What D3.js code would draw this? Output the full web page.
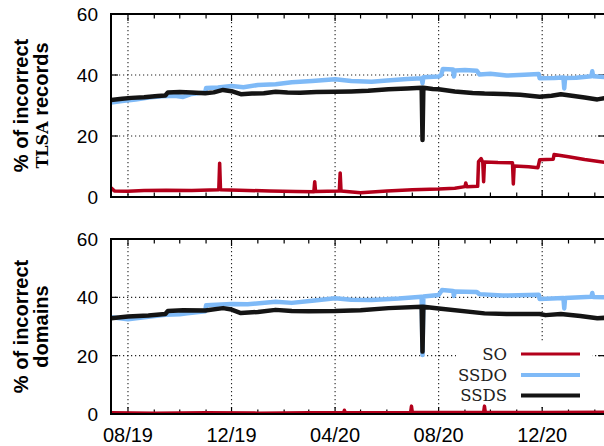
<!DOCTYPE html>
<html>
<head>
<meta charset="utf-8">
<script src="https://cdn.jsdelivr.net/npm/d3@7"></script>
<style>
  body { margin: 0; background: #fff; }
  svg { display: block; }
</style>
</head>
<body>
<div class="chart"></div>
<script>
'use strict';

// x axis: major tick months and labels
var majorTicks  = ['2019-08-01', '2019-12-01', '2020-04-01', '2020-08-01', '2020-12-01'];
var majorLabels = ['08/19', '12/19', '04/20', '08/20', '12/20'];
var yTicks      = [0, 20, 40, 60];

var seriesNames = ['SO', 'SSDO', 'SSDS'];

// top panel: % of incorrect TLSA records
var tlsaSO = [
  ['2019-07-12', 3.0], ['2019-07-16', 2.0], ['2019-08-01', 1.9], ['2019-08-20', 2.1],
  ['2019-09-15', 2.2], ['2019-10-15', 2.1], ['2019-11-16', 2.4], ['2019-11-17', 11.1],
  ['2019-11-18', 2.4], ['2019-12-10', 2.2], ['2020-01-15', 2.0], ['2020-02-15', 1.8],
  ['2020-03-07', 1.7], ['2020-03-08', 5.0], ['2020-03-09', 1.8], ['2020-04-06', 2.0],
  ['2020-04-07', 7.9], ['2020-04-08', 2.0], ['2020-05-01', 1.4], ['2020-06-01', 2.0],
  ['2020-07-01', 2.4], ['2020-08-01', 2.6], ['2020-08-20', 2.9], ['2020-09-01', 3.4],
  ['2020-09-02', 4.6], ['2020-09-03', 3.4], ['2020-09-16', 3.5], ['2020-09-17', 11.6],
  ['2020-09-20', 12.6], ['2020-09-22', 11.4], ['2020-09-23', 5.0], ['2020-09-24', 11.5],
  ['2020-10-10', 11.3], ['2020-10-27', 11.2], ['2020-10-28', 4.3], ['2020-10-29', 10.2],
  ['2020-11-15', 9.9], ['2020-11-26', 9.6], ['2020-11-28', 12.2], ['2020-12-14', 12.4],
  ['2020-12-15', 13.9], ['2021-01-01', 13.2], ['2021-01-20', 12.3], ['2021-02-14', 11.3]
];
var tlsaSSDO = [
  ['2019-07-12', 31.0], ['2019-07-25', 31.5], ['2019-08-10', 32.0], ['2019-08-25', 32.6],
  ['2019-09-10', 33.0], ['2019-09-25', 33.2], ['2019-10-05', 32.8], ['2019-10-15', 33.8],
  ['2019-10-31', 34.3], ['2019-11-01', 35.7], ['2019-11-15', 35.9], ['2019-12-01', 36.4],
  ['2019-12-15', 36.0], ['2020-01-01', 36.7], ['2020-01-22', 37.0], ['2020-02-10', 37.6],
  ['2020-03-05', 38.0], ['2020-04-01', 38.6], ['2020-04-20', 38.0], ['2020-05-14', 37.8],
  ['2020-06-05', 38.3], ['2020-06-25', 38.7], ['2020-07-12', 38.9], ['2020-07-13', 37.3],
  ['2020-07-14', 39.3], ['2020-08-01', 39.5], ['2020-08-04', 40.0], ['2020-08-06', 42.0],
  ['2020-08-18', 41.8], ['2020-08-19', 39.5], ['2020-08-20', 41.5], ['2020-09-01', 41.6],
  ['2020-09-15', 41.4], ['2020-09-18', 40.2], ['2020-10-01', 40.4], ['2020-10-20', 39.8],
  ['2020-11-10', 40.1], ['2020-11-27', 40.3], ['2020-11-28', 38.9], ['2020-12-15', 39.0],
  ['2020-12-26', 39.2], ['2020-12-27', 35.6], ['2020-12-28', 39.0], ['2021-01-10', 39.1],
  ['2021-01-28', 39.6], ['2021-01-29', 41.2], ['2021-01-30', 39.6], ['2021-02-14', 39.3]
];
var tlsaSSDS = [
  ['2019-07-12', 31.8], ['2019-07-25', 32.2], ['2019-08-05', 32.5], ['2019-08-20', 32.7],
  ['2019-09-05', 33.1], ['2019-09-14', 33.3], ['2019-09-17', 34.3], ['2019-10-01', 34.4],
  ['2019-10-15', 34.3], ['2019-10-31', 34.0], ['2019-11-10', 34.3], ['2019-11-21', 35.1],
  ['2019-12-01', 34.7], ['2019-12-12', 33.7], ['2019-12-25', 33.9], ['2020-01-08', 34.0],
  ['2020-01-22', 34.5], ['2020-02-05', 34.3], ['2020-02-20', 34.2], ['2020-03-10', 34.4],
  ['2020-04-01', 34.5], ['2020-04-20', 34.6], ['2020-05-10', 34.8], ['2020-06-03', 35.3],
  ['2020-06-25', 35.6], ['2020-07-12', 35.8], ['2020-07-13', 18.7], ['2020-07-14', 35.8],
  ['2020-07-25', 35.4], ['2020-08-01', 35.3], ['2020-08-20', 34.6], ['2020-09-10', 34.1],
  ['2020-09-24', 33.9], ['2020-10-15', 33.8], ['2020-11-05', 33.5], ['2020-11-28', 32.9],
  ['2020-12-12', 33.2], ['2020-12-23', 33.7], ['2021-01-05', 33.2], ['2021-01-20', 32.6],
  ['2021-02-04', 32.0], ['2021-02-14', 32.5]
];

// bottom panel: % of incorrect domains
var domSO = [
  ['2019-07-12', 0.4], ['2019-09-01', 0.3], ['2019-11-01', 0.4], ['2020-01-01', 0.3],
  ['2020-03-01', 0.4], ['2020-04-11', 0.4], ['2020-04-12', 1.3], ['2020-04-13', 0.4],
  ['2020-06-29', 0.5], ['2020-06-30', 2.7], ['2020-07-01', 0.5], ['2020-08-25', 0.5],
  ['2020-09-23', 0.5], ['2020-09-24', 2.7], ['2020-09-25', 0.5], ['2020-12-01', 0.5],
  ['2021-02-14', 0.6]
];
var domSSDO = [
  ['2019-07-12', 33.2], ['2019-08-01', 32.5], ['2019-08-25', 33.3], ['2019-09-14', 34.0],
  ['2019-10-01', 34.2], ['2019-10-10', 34.5], ['2019-10-31', 35.2], ['2019-11-01', 37.3],
  ['2019-12-01', 37.7], ['2019-12-20', 37.6], ['2020-01-22', 38.5], ['2020-02-10', 38.1],
  ['2020-03-05', 38.8], ['2020-04-01', 39.7], ['2020-04-20', 39.2], ['2020-05-14', 39.1],
  ['2020-06-15', 39.6], ['2020-07-12', 40.2], ['2020-07-13', 20.2], ['2020-07-14', 40.3],
  ['2020-08-01', 40.8], ['2020-08-05', 42.5], ['2020-08-18', 42.2], ['2020-08-19', 40.5],
  ['2020-08-20', 42.0], ['2020-09-15', 41.8], ['2020-09-18', 41.1], ['2020-10-15', 40.6],
  ['2020-11-27', 40.9], ['2020-11-28', 39.4], ['2020-12-26', 39.8], ['2020-12-27', 36.2],
  ['2020-12-28', 39.8], ['2021-01-28', 40.2], ['2021-01-29', 41.5], ['2021-01-30', 40.1],
  ['2021-02-14', 40.0]
];
var domSSDS = [
  ['2019-07-12', 32.8], ['2019-08-01', 33.4], ['2019-08-25', 33.8], ['2019-09-14', 34.3],
  ['2019-09-17', 35.3], ['2019-10-05', 35.6], ['2019-10-31', 35.5], ['2019-11-21', 36.3],
  ['2019-12-01', 35.8], ['2019-12-12', 34.6], ['2020-01-01', 35.0], ['2020-01-22', 35.7],
  ['2020-02-10', 35.3], ['2020-03-01', 35.2], ['2020-04-01', 35.3], ['2020-05-01', 35.6],
  ['2020-06-03', 36.3], ['2020-07-12', 36.8], ['2020-07-13', 21.4], ['2020-07-14', 36.8],
  ['2020-08-01', 36.2], ['2020-09-24', 34.5], ['2020-10-20', 34.3], ['2020-11-28', 34.3],
  ['2020-12-05', 33.9], ['2020-12-23', 34.3], ['2021-01-15', 33.6], ['2021-02-04', 32.8],
  ['2021-02-14', 33.0]
];

var colors = { SO: '#b3001b', SSDO: '#7fbaf7', SSDS: '#141414' };
var widths = { SO: 3.5, SSDO: 4.5, SSDS: 4.5 };

var width = 604, height = 446;
var left = 111, right = 605;
var parse = d3.utcParse('%Y-%m-%d');
var sans = 'Liberation Sans, Arial, sans-serif';
var typewriter = 'DejaVu Serif, serif';

var svg = d3.select('.chart').append('svg')
  .attr('width', width)
  .attr('height', height);

var x = d3.scaleUtc()
  .domain([parse('2019-07-12'), parse('2021-02-13')])
  .range([left, right]);

var panels = [
  { top: 14,  bottom: 197, label: ['% of incorrect', 'TLSA records'], tt: true,
    data: { SO: tlsaSO, SSDO: tlsaSSDO, SSDS: tlsaSSDS }, xlabels: false },
  { top: 239, bottom: 414, label: ['% of incorrect', 'domains'], tt: false,
    data: { SO: domSO, SSDO: domSSDO, SSDS: domSSDS }, xlabels: true }
];

var majorDates = majorTicks.map(parse);
var minorDates = d3.utcMonth.range(parse('2019-08-01'), parse('2021-03-01'));

panels.forEach(function(p, i){
  var y = d3.scaleLinear().domain([0, 60]).range([p.bottom, p.top]);
  var g = svg.append('g');

  // clip so lines stay inside the frame
  var clipId = 'clip' + i;
  svg.append('clipPath').attr('id', clipId)
    .append('rect')
    .attr('x', left).attr('y', p.top)
    .attr('width', right - left).attr('height', p.bottom - p.top);

  // dotted grid
  var grid = g.append('g')
    .attr('stroke', '#222')
    .attr('stroke-width', 1.1)
    .attr('stroke-dasharray', '1.2,2.8');
  grid.selectAll('line.gx').data(majorDates).enter().append('line')
    .attr('x1', function(d){ return x(d); })
    .attr('x2', function(d){ return x(d); })
    .attr('y1', p.top).attr('y2', p.bottom);
  grid.selectAll('line.gy').data([20, 40]).enter().append('line')
    .attr('x1', left).attr('x2', right)
    .attr('y1', function(d){ return y(d); })
    .attr('y2', function(d){ return y(d); });

  // legend box hides the grid under it (bottom panel only)
  if(p.xlabels){
    g.append('rect')
      .attr('x', 456).attr('y', 343)
      .attr('width', 136).attr('height', 64)
      .attr('fill', '#fff');
  }

  // ticks, mirrored on all sides
  var ticks = g.append('g').attr('stroke', '#000').attr('stroke-width', 1.2);
  minorDates.forEach(function(d){
    var major = majorDates.some(function(m){ return +m === +d; });
    var len = major ? 7 : 4.5;
    ticks.append('line')
      .attr('x1', x(d)).attr('x2', x(d))
      .attr('y1', p.bottom).attr('y2', p.bottom - len);
    ticks.append('line')
      .attr('x1', x(d)).attr('x2', x(d))
      .attr('y1', p.top).attr('y2', p.top + len);
  });
  yTicks.forEach(function(v){
    ticks.append('line')
      .attr('x1', left).attr('x2', left + 7)
      .attr('y1', y(v)).attr('y2', y(v));
    ticks.append('line')
      .attr('x1', right).attr('x2', right - 7)
      .attr('y1', y(v)).attr('y2', y(v));
  });

  // series
  var line = d3.line()
    .x(function(d){ return x(parse(d[0])); })
    .y(function(d){ return y(d[1]); });

  var lines = g.append('g').attr('clip-path', 'url(#' + clipId + ')');
  seriesNames.forEach(function(name){
    lines.append('path')
      .datum(p.data[name])
      .attr('d', line)
      .attr('fill', 'none')
      .attr('stroke', colors[name])
      .attr('stroke-width', widths[name])
      .attr('stroke-linejoin', 'round');
  });

  // frame
  g.append('rect')
    .attr('x', left).attr('y', p.top)
    .attr('width', right - left).attr('height', p.bottom - p.top)
    .attr('fill', 'none')
    .attr('stroke', '#000')
    .attr('stroke-width', 2);

  // y tick labels
  g.selectAll('text.yt').data(yTicks).enter().append('text')
    .attr('x', 98)
    .attr('y', function(d){ return y(d); })
    .attr('dy', '0.36em')
    .attr('text-anchor', 'end')
    .attr('font-family', sans)
    .attr('font-size', 19)
    .text(function(d){ return d; });

  // y axis title, two lines
  var cy = (p.top + p.bottom) / 2;
  var title = g.append('text')
    .attr('transform', 'translate(0,' + cy + ') rotate(-90)')
    .attr('text-anchor', 'middle')
    .attr('font-family', sans)
    .attr('font-weight', 'bold')
    .attr('font-size', 20);
  title.append('tspan').attr('x', 0).attr('y', 28).text(p.label[0]);
  var l2 = title.append('tspan').attr('x', 0).attr('y', 48);
  if(p.tt){
    l2.append('tspan').attr('font-family', typewriter).attr('font-size', 16).text('TLSA');
    l2.append('tspan').text(' records');
  } else {
    l2.text(p.label[1]);
  }

  // x tick labels
  if(p.xlabels){
    g.selectAll('text.xt').data(majorDates).enter().append('text')
      .attr('x', function(d){ return x(d); })
      .attr('y', 442)
      .attr('text-anchor', 'middle')
      .attr('font-family', sans)
      .attr('font-size', 20)
      .text(function(d, j){ return majorLabels[j]; });

    // legend
    var rowsY = [354, 375, 395.5];
    var leg = g.append('g');
    seriesNames.forEach(function(name, j){
      leg.append('text')
        .attr('x', 507).attr('y', rowsY[j])
        .attr('dy', '0.36em')
        .attr('text-anchor', 'end')
        .attr('font-family', typewriter)
        .attr('font-size', 16.5)
        .attr('fill', '#222')
        .text(name);
      leg.append('line')
        .attr('x1', 521).attr('x2', 580)
        .attr('y1', rowsY[j]).attr('y2', rowsY[j])
        .attr('stroke', colors[name])
        .attr('stroke-width', widths[name] - 0.5);
    });
  }
});
</script>
</body>
</html>
